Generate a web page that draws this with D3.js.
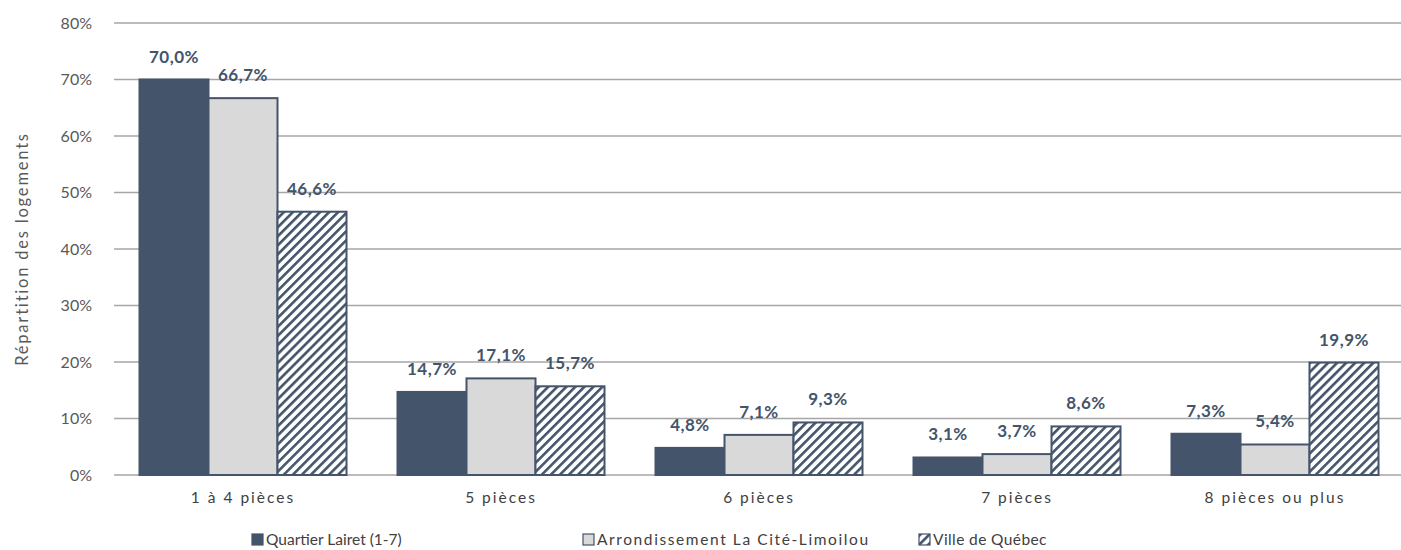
<!DOCTYPE html>
<html>
<head>
<meta charset="utf-8">
<script src="https://cdn.jsdelivr.net/npm/d3@7"></script>
<style>
  body { margin: 0; background: #fff; }
  svg { display: block; font-family: Lato, "Open Sans", sans-serif; }
</style>
</head>
<body>
<svg id="chart" width="1401" height="550"></svg>
<script>
// Data
const categories = ["1 à 4 pièces", "5 pièces", "6 pièces", "7 pièces", "8 pièces ou plus"];
const seriesNames = ["Quartier Lairet (1-7)", "Arrondissement La Cité-Limoilou", "Ville de Québec"];
const lairet = [70.0, 14.7, 4.8, 3.1, 7.3];
const citeLimoilou = [66.7, 17.1, 7.1, 3.7, 5.4];
const villeQuebec = [46.6, 15.7, 9.3, 8.6, 19.9];
const yTicks = [0, 10, 20, 30, 40, 50, 60, 70, 80];

const series = [lairet, citeLimoilou, villeQuebec];
const navy = "#44546A";

const svg = d3.select("#chart");
const margin = { left: 114, right: -3, top: 23, bottom: 75 };
const width = 1401, height = 550;

// hatch pattern for Ville de Québec
const defs = svg.append("defs");
const pat = defs.append("pattern")
    .attr("id", "hatch")
    .attr("patternUnits", "userSpaceOnUse")
    .attr("width", 6.4).attr("height", 6.4)
    .attr("patternTransform", "rotate(45)");
pat.append("rect").attr("width", 6.4).attr("height", 6.4).attr("fill", "#fff");
pat.append("rect").attr("x", 0).attr("width", 2.6).attr("height", 6.4).attr("fill", navy);

const fills = [navy, "#D9D9D9", "url(#hatch)"];

// scales
const x = d3.scaleBand()
    .domain(categories)
    .range([margin.left, width - margin.right])
    .paddingInner(0).paddingOuter(0);

const barW = 69;
const x1 = d3.scaleBand()
    .domain(d3.range(3))
    .range([(x.bandwidth() - barW * 3) / 2, (x.bandwidth() + barW * 3) / 2]);

const y = d3.scaleLinear()
    .domain([0, 80])
    .range([height - margin.bottom, margin.top]);

// gridlines
svg.append("g")
    .selectAll("line")
    .data(yTicks)
    .enter().append("line")
    .attr("x1", margin.left)
    .attr("x2", width)
    .attr("y1", d => y(d))
    .attr("y2", d => y(d))
    .attr("stroke", "#A6A6A6")
    .attr("stroke-width", 1.3);

// y tick labels
svg.append("g")
    .selectAll("text")
    .data(yTicks)
    .enter().append("text")
    .attr("x", 92)
    .attr("y", d => y(d))
    .attr("dy", "0.35em")
    .attr("text-anchor", "end")
    .attr("fill", "#595959")
    .style("font-size", "16px")
    .text(d => d + "%");

// y title
svg.append("text")
    .attr("transform", "translate(28," + y(40) + ") rotate(-90)")
    .attr("text-anchor", "middle")
    .attr("fill", "#595959")
    .style("font-size", "16.5px")
    .style("letter-spacing", "1.8px")
    .text("Répartition des logements");

// bars
const groups = svg.append("g")
    .selectAll("g")
    .data(categories)
    .enter().append("g")
    .attr("transform", d => "translate(" + x(d) + ",0)");

groups.selectAll("rect")
    .data((c, ci) => series.map((s, si) => ({ si: si, v: s[ci] })))
    .enter().append("rect")
    .attr("x", d => x1(d.si))
    .attr("width", x1.bandwidth())
    .attr("y", d => y(d.v))
    .attr("height", d => y(0) - y(d.v))
    .attr("fill", d => fills[d.si])
    .attr("stroke", navy)
    .attr("stroke-width", 2);

// value labels
groups.selectAll("text")
    .data((c, ci) => series.map((s, si) => ({ si: si, v: s[ci] })))
    .enter().append("text")
    .attr("x", d => x1(d.si) + x1.bandwidth() / 2)
    .attr("y", d => y(d.v) - 17)
    .attr("text-anchor", "middle")
    .attr("fill", navy)
    .style("font-size", "17px")
    .style("font-weight", "bold")
    .style("letter-spacing", "0.5px")
    .text(d => d.v.toFixed(1).replace(".", ",") + "%");

// category labels
svg.append("g")
    .selectAll("text")
    .data(categories)
    .enter().append("text")
    .attr("x", d => x(d) + x.bandwidth() / 2)
    .attr("y", 503)
    .attr("text-anchor", "middle")
    .attr("fill", "#404040")
    .style("font-size", "15.5px")
    .style("letter-spacing", "2px")
    .text(d => d);

// legend
const legendX = [252, 583, 919];
const legendSpacing = ["0px", "1.6px", "0.4px"];
const legend = svg.append("g")
    .selectAll("g")
    .data(seriesNames)
    .enter().append("g")
    .attr("transform", (d, i) => "translate(" + legendX[i] + ",534)");

legend.append("rect")
    .attr("width", 11).attr("height", 11)
    .attr("fill", (d, i) => fills[i])
    .attr("stroke", navy)
    .attr("stroke-width", 1.2);

legend.append("text")
    .attr("x", 14)
    .attr("y", 6)
    .attr("dy", "0.35em")
    .attr("fill", "#404040")
    .style("font-size", "15.5px")
    .style("letter-spacing", (d, i) => legendSpacing[i])
    .text(d => d);
</script>
</body>
</html>
